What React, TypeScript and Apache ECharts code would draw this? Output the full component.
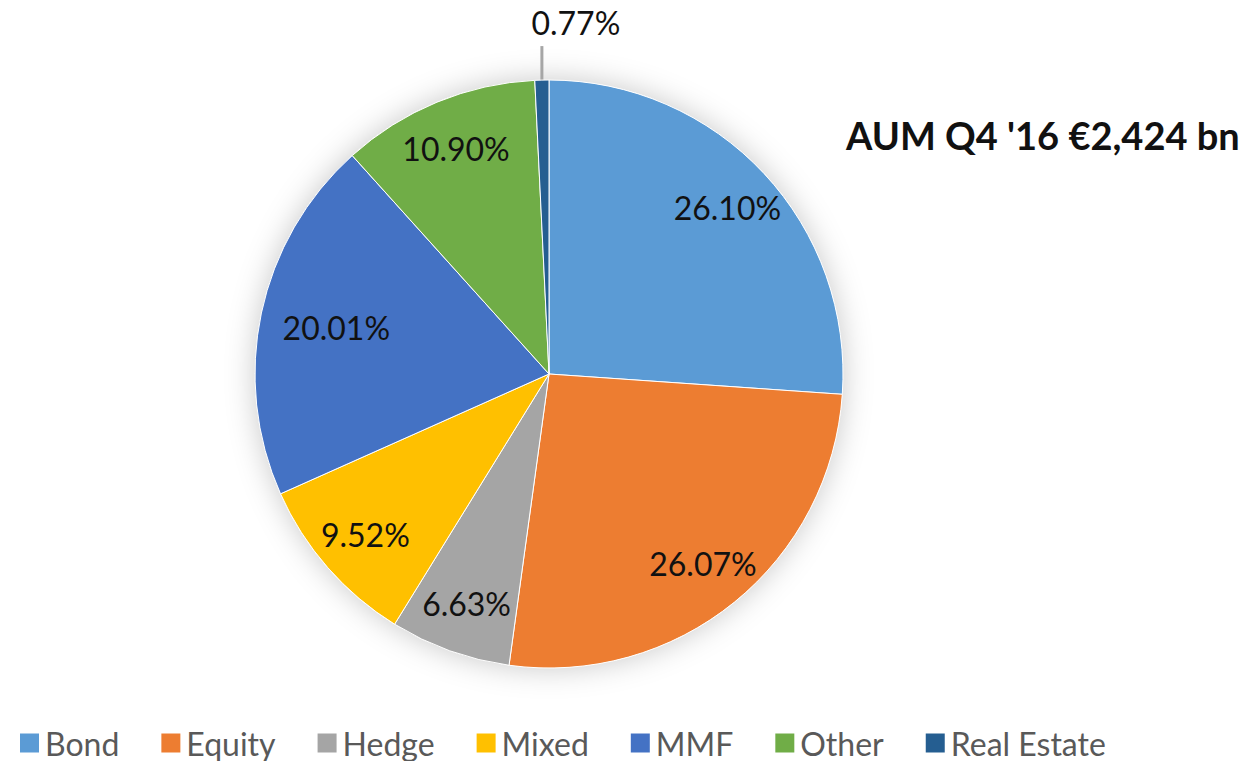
import React, { useEffect, useRef } from "react";
import * as echarts from "echarts";

const categories = ["Bond", "Equity", "Hedge", "Mixed", "MMF", "Other", "Real Estate"];
const shares = [26.1, 26.07, 6.63, 9.52, 20.01, 10.9, 0.77];
const colors = ["#5B9BD5", "#ED7D31", "#A5A5A5", "#FFC000", "#4472C4", "#70AD47", "#255E91"];
const outsideLabelNames = ["Real Estate"];
const noteText = "AUM Q4 '16 €2,424 bn";

const FONT = "Lato, 'Open Sans', sans-serif";

export default function App() {
  const ref = useRef<HTMLDivElement>(null);

  useEffect(() => {
    document.body.style.margin = "0";
    if (!ref.current) return;
    const chart = echarts.init(ref.current, undefined, { renderer: "svg" });
    const center = [549, 374];
    const R = 294;
    const fmt = (p: any) => shares[p.dataIndex].toFixed(2) + "%";

    const mainData = categories.map((name, i) => {
      const outside = outsideLabelNames.includes(name);
      return {
        name,
        value: shares[i],
        itemStyle: { color: colors[i] },
        label: outside
          ? { show: true, position: "outside", formatter: fmt }
          : { show: false },
        labelLine: outside
          ? { show: true, length: 30, length2: 0, lineStyle: { color: "#A6A6A6", width: 3 } }
          : { show: false },
      };
    });

    const overlayData = categories.map((name, i) => ({
      name,
      value: shares[i],
      itemStyle: { color: "rgba(0,0,0,0)" },
      label: { show: !outsideLabelNames.includes(name) },
    }));

    const total = shares.reduce((a, b) => a + b, 0);

    chart.setOption({
      animation: false,
      backgroundColor: "#ffffff",
      legend: {
        left: 13,
        top: 722,
        orient: "horizontal",
        icon: "rect",
        itemWidth: 21,
        itemHeight: 21,
        itemGap: 40,
        selectedMode: false,
        textStyle: { color: "#595959", fontSize: 32, fontFamily: FONT },
        data: categories.map((name, i) => ({ name, itemStyle: { color: colors[i] } })),
      },
      graphic: [
        {
          type: "text",
          left: 846,
          top: 116,
          style: {
            text: noteText,
            fill: "#111111",
            font: `bold 38px ${FONT}`,
          },
        },
      ],
      series: [
        {
          type: "pie",
          name: "shadow",
          silent: true,
          center,
          radius: R,
          z: 1,
          label: { show: false },
          labelLine: { show: false },
          itemStyle: {
            color: "#ffffff",
            shadowBlur: 30,
            shadowColor: "rgba(0,0,0,0.22)",
          },
          data: [{ name: "__total", value: total }],
        },
        {
          type: "pie",
          name: "AUM",
          center,
          radius: R,
          startAngle: 90,
          clockwise: true,
          z: 2,
          avoidLabelOverlap: false,
          itemStyle: { borderColor: "#ffffff", borderWidth: 1 },
          label: {
            color: "#111111",
            fontSize: 32,
            fontFamily: FONT,
          },
          labelLayout: (params: any) => {
            if (!outsideLabelNames.includes(categories[params.dataIndex])) return {};
            const pts = params.labelLinePoints;
            if (!pts || !pts.length) return {};
            const x0 = pts[0][0];
            const y0 = pts[0][1];
            return {
              x: x0 + 34,
              y: y0 - 42,
              align: "center",
              verticalAlign: "bottom",
              labelLinePoints: [
                [x0, y0],
                [x0, y0 - 34],
                [x0, y0 - 34],
              ],
            };
          },
          data: mainData,
        },
        {
          type: "pie",
          name: "labels",
          silent: true,
          center,
          radius: [188, R],
          startAngle: 90,
          clockwise: true,
          z: 3,
          avoidLabelOverlap: false,
          itemStyle: { borderWidth: 0 },
          label: {
            position: "inside",
            formatter: fmt,
            color: "#111111",
            fontSize: 32,
            fontFamily: FONT,
          },
          labelLayout: (params: any) =>
            categories[params.dataIndex] === "MMF" ? { dx: 26, dy: 4 } : {},
          labelLine: { show: false },
          emphasis: { disabled: true },
          data: overlayData,
        },
      ],
    });

    return () => chart.dispose();
  }, []);

  return <div ref={ref} style={{ width: 1251, height: 761 }} />;
}
